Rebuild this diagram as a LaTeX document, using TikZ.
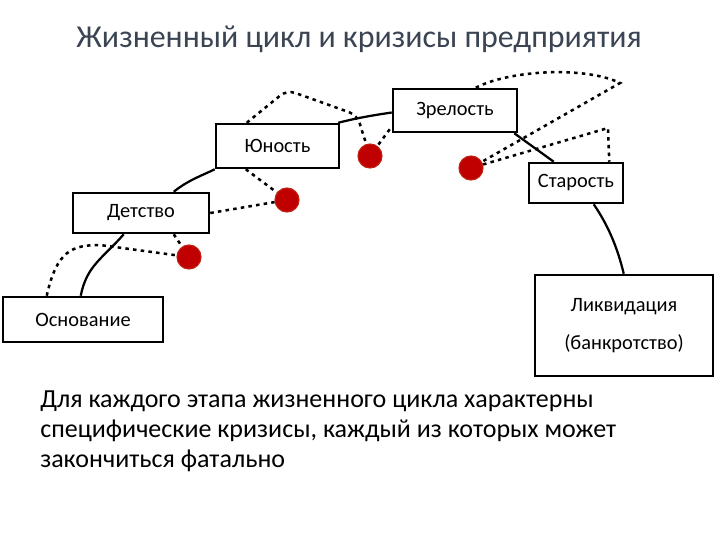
\documentclass[tikz,border=0pt]{standalone}
\usepackage{fontspec}
\setmainfont{Carlito}
\usetikzlibrary{calc}
\definecolor{titlegray}{HTML}{3B4453}
\definecolor{crisisred}{HTML}{C00000}

\begin{document}
\begin{tikzpicture}[x=0.025cm, y=-0.025cm, every node/.style={font=\fontsize{14.5}{17}\selectfont},
    stage/.style={draw, line width=1.8pt, inner sep=0pt, align=center},
    crisis/.style={circle, fill=crisisred, draw=crisisred!75!brown, line width=0.8pt, minimum size=0.6cm, inner sep=0pt},
    arch/.style={line width=1.6pt},
    riskpath/.style={line width=1.8pt, dash pattern=on 2.5pt off 3pt}]
  \useasboundingbox[fill=white] (0,0) rectangle (720,540);
  \node[font=\fontsize{22.7}{28}\selectfont, text=titlegray] (title) at (359,39) {Жизненный цикл и кризисы предприятия};
  % stages of the life cycle
  \foreach \n/\x/\y/\w/\h/\l in {osn/83/319.5/160/45/{Основание}, det/141/213/136/40/{Детство},
      yun/277.5/146/123/44/{Юность}, zrel/455/110.5/124/43/{Зрелость}, star/576/183/94/40/{Старость},
      likv/624/325.5/178/101/{Ликвидация\\[10pt](банкротство)}}{
    \node[stage, minimum width=\w*0.025cm, minimum height=\h*0.025cm] (\n) at (\x,\y) {\l};
  }
  % crises
  \foreach \i/\x/\y in {1/189/257, 2/287/200, 3/370/156, 4/471/168}{
    \node[crisis] (c\i) at (\x,\y) {};
  }
  % the arch
  \draw[arch] ($(osn.north west)+(79,0)$) .. controls +(6,-30) and +(-22,25) .. ($(det.south west)+(52,0)$);
  \draw[arch] ($(det.north west)+(102,0)$) .. controls +(15,-12) and +(-12,6) .. (yun.south west);
  \draw[arch] ($(yun.north east)+(-2,0)$) .. controls +(20,-5) and +(-20,3) .. ($(zrel.west)+(0,2)$);
  \draw[arch] ($(zrel.south east)+(-4,0)$) -- ($(star.north west)+(26,0)$);
  \draw[arch] ($(star.south west)+(66,0)$) .. controls +(15,22) and +(-6,-25) .. ($(likv.north west)+(90,0)$);
  % paths into crises
  \draw[riskpath] ($(osn.north west)+(45,0)$) .. controls +(10,-45) and +(-28,0) .. (100,245) -- (c1);
  \draw[riskpath] ($(det.south west)+(102,0)$) -- (c1);
  \draw[riskpath] (det.east) -- (c2);
  \draw[riskpath] ($(yun.south west)+(31,0)$) -- (c2);
  \draw[riskpath, rounded corners=6pt] ($(yun.north west)+(32,0)$) -- (287,90) -- (357,115) -- (c3);
  \draw[riskpath] ($(zrel.south west)+(-2,-4)$) -- (c3);
  \draw[riskpath] ($(zrel.north west)+(84,0)$) .. controls (510,70) and (585,66) .. (620,83) -- (c4);
  \draw[riskpath] (c4) -- (608,128) -- ($(star.north east)+(-15,0)$);
  \node[anchor=north west, inner sep=0pt, align=left, font=\fontsize{18.5}{21}\selectfont] (note) at (40,391)
    {Для каждого этапа жизненного цикла характерны\\специфические кризисы, каждый из которых может\\закончиться фатально};
\end{tikzpicture}
\end{document}
